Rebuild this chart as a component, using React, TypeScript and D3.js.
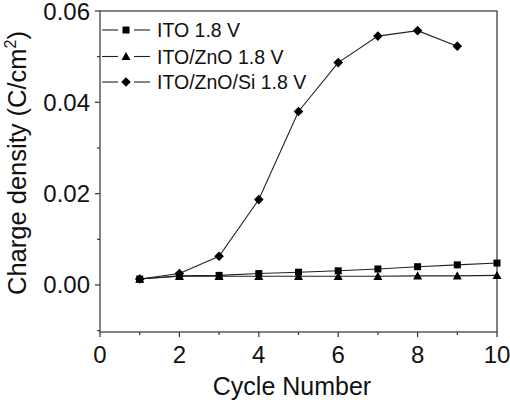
import React from "react";
import * as d3 from "d3";

const cycles = [1, 2, 3, 4, 5, 6, 7, 8, 9, 10];
const itoValues = [0.0013, 0.002, 0.0021, 0.0025, 0.0028, 0.0031, 0.0035, 0.004, 0.0044, 0.0048];
const itoZnoValues = [0.0013, 0.0019, 0.0019, 0.0019, 0.0019, 0.0019, 0.0019, 0.002, 0.002, 0.0021];
const siCycles = [1, 2, 3, 4, 5, 6, 7, 8, 9];
const itoZnoSiValues = [0.0013, 0.0025, 0.0063, 0.0187, 0.038, 0.0487, 0.0545, 0.0557, 0.0523];
const xTicks = [0, 2, 4, 6, 8, 10];
const xMinor = [1, 3, 5, 7, 9];
const yTicks = [0, 0.02, 0.04, 0.06];
const yMinor = [-0.01, 0.01, 0.03, 0.05];
const seriesNames = ["ITO 1.8 V", "ITO/ZnO 1.8 V", "ITO/ZnO/Si 1.8 V"];

const W = 510, H = 403;
const L = 100, R = 497, T = 11, B = 332;

function Marker({ kind, x, y }: { kind: string; x: number; y: number }) {
  if (kind === "square") return <rect x={x - 3.5} y={y - 3.5} width={7} height={7} fill="#000" />;
  if (kind === "triangle") {
    const s = 4.5;
    return <path d={`M${x},${y - s}L${x + s},${y + s * 0.8}L${x - s},${y + s * 0.8}Z`} fill="#000" />;
  }
  const s = 4.8;
  return <path d={`M${x},${y - s}L${x + s},${y}L${x},${y + s}L${x - s},${y}Z`} fill="#000" />;
}

export default function App() {
  const x = d3.scaleLinear().domain([0, 10]).range([L, R]);
  const y = d3.scaleLinear().domain([-0.0103, 0.06]).range([B, T]);
  const line = d3.line<[number, number]>().x(d => x(d[0])).y(d => y(d[1]));
  const series = [
    { name: seriesNames[0], kind: "square", pts: cycles.map((c, i) => [c, itoValues[i]] as [number, number]) },
    { name: seriesNames[1], kind: "triangle", pts: cycles.map((c, i) => [c, itoZnoValues[i]] as [number, number]) },
    { name: seriesNames[2], kind: "diamond", pts: siCycles.map((c, i) => [c, itoZnoSiValues[i]] as [number, number]) },
  ];
  const font = "Arial, 'Liberation Sans', sans-serif";
  const legendY = [30, 56.5, 82];
  return (
    <svg width={W} height={H} style={{ position: "absolute", left: 0, top: 0, background: "#fff" }} fontFamily={font}>
      <rect x={0} y={0} width={W} height={H} fill="#fff" />
      <rect x={L} y={T} width={R - L} height={B - T} fill="none" stroke="#333" strokeWidth={1.2} />
      {xTicks.map(t => (
        <g key={"xt" + t}>
          <line x1={x(t)} x2={x(t)} y1={B} y2={B + 5} stroke="#333" strokeWidth={1.2} />
          <text x={x(t)} y={B + 31} fontSize={24} textAnchor="middle" fill="#111">{t}</text>
        </g>
      ))}
      {xMinor.map(t => (
        <line key={"xm" + t} x1={x(t)} x2={x(t)} y1={B} y2={B + 3} stroke="#333" strokeWidth={1.2} />
      ))}
      {yTicks.map(t => (
        <g key={"yt" + t}>
          <line x1={L - 5} x2={L} y1={y(t)} y2={y(t)} stroke="#333" strokeWidth={1.2} />
          <text x={L - 10} y={y(t) + 8.5} fontSize={24} textAnchor="end" fill="#111">{d3.format(".2f")(t)}</text>
        </g>
      ))}
      {yMinor.map(t => (
        <line key={"ym" + t} x1={L - 3} x2={L} y1={y(t)} y2={y(t)} stroke="#333" strokeWidth={1.2} />
      ))}
      <text x={292} y={395} fontSize={25} textAnchor="middle" fill="#111">Cycle Number</text>
      <text transform={`translate(26,${163}) rotate(-90)`} fontSize={25.5} textAnchor="middle" fill="#111">
        Charge density (C/cm<tspan dy={-10} fontSize={16}>2</tspan><tspan dy={10}>)</tspan>
      </text>
      {series.map(s => (
        <g key={s.name}>
          <path d={line(s.pts) || ""} fill="none" stroke="#222" strokeWidth={1.1} />
          {s.pts.map((p, i) => (
            <Marker key={i} kind={s.kind} x={x(p[0])} y={y(p[1])} />
          ))}
        </g>
      ))}
      {series.map((s, i) => (
        <g key={"lg" + i}>
          <line x1={102} x2={118} y1={legendY[i]} y2={legendY[i]} stroke="#222" strokeWidth={1.1} />
          <line x1={134} x2={150} y1={legendY[i]} y2={legendY[i]} stroke="#222" strokeWidth={1.1} />
          <Marker kind={s.kind} x={126} y={legendY[i]} />
          <text x={157} y={legendY[i] + 7} fontSize={19.5} fill="#111">{s.name}</text>
        </g>
      ))}
    </svg>
  );
}
